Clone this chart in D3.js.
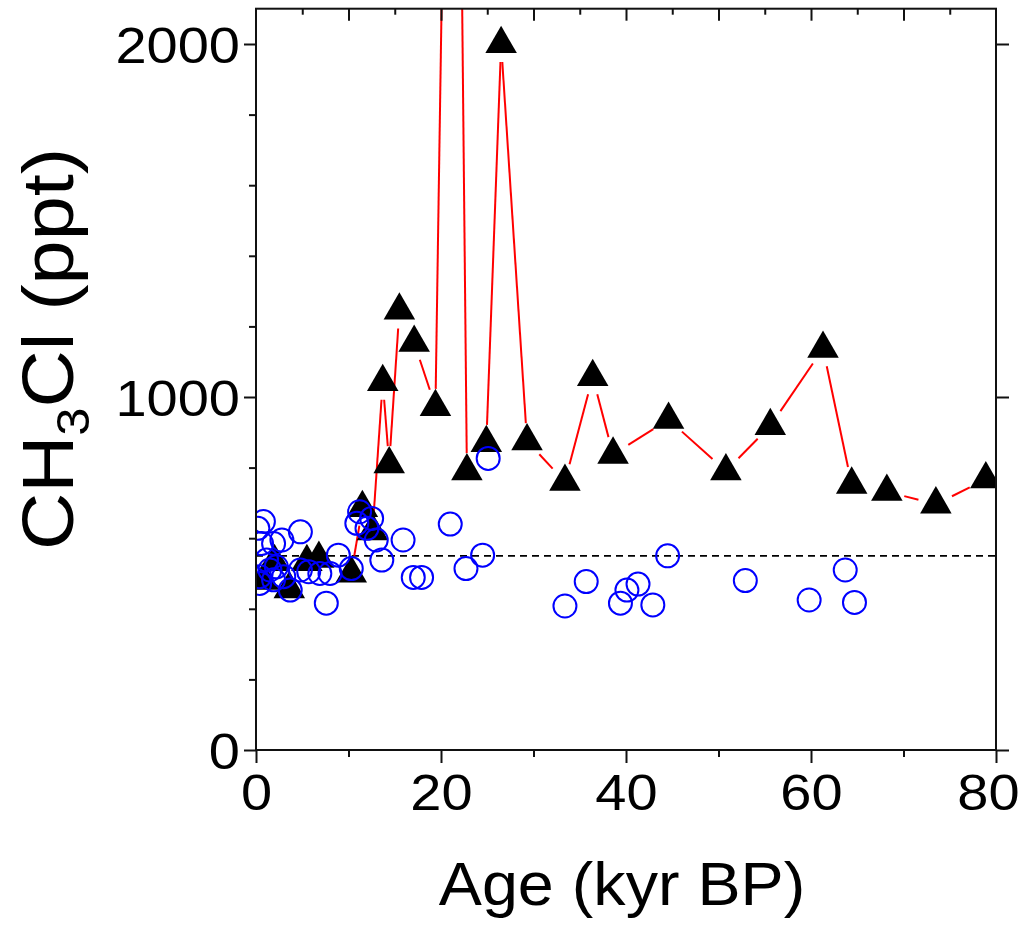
<!DOCTYPE html>
<html><head><meta charset="utf-8">
<script src="https://cdn.jsdelivr.net/npm/d3@7"></script>
<style>body{margin:0;background:#fff}svg{display:block}</style>
</head><body><svg id="c" width="1022" height="927"></svg>
<script>
// Triangles (connected by red line), age in kyr BP and CH3Cl in ppt
const triAge = [0.8, 2.0, 3.6, 5.5, 6.8, 10.3, 11.5, 12.6, 13.7, 14.4, 15.5, 17.1, 19.4, 21.4, 22.8, 24.9, 26.5, 29.3, 33.4, 36.4, 38.6, 44.6, 50.8, 55.6, 61.3, 64.4, 68.2, 73.5, 78.9];
const triVal = [480, 533, 456, 533, 542, 500, 686, 620, 1043, 810, 1245, 1154, 972, 4400, 790, 870, 2000, 875, 760, 1057, 837, 936, 790, 918, 1137, 752, 732, 696, 767];
// Open circles
const circAge = [0.2, 0.8, 0.6, 1.15, 0.4, 0.4, 1.5, 1.9, 1.9, 2.2, 2.8, 3.0, 3.7, 4.8, 4.8, 5.7, 6.9, 7.6, 8.0, 8.9, 10.3, 10.9, 11.2, 12.0, 12.5, 13.0, 13.6, 15.9, 17.0, 17.9, 21.0, 22.7, 24.5, 25.1, 33.4, 35.7, 39.4, 40.1, 41.3, 42.9, 44.5, 52.9, 59.8, 63.7, 64.7];
const circVal = [628, 647, 585, 538, 491, 472, 510, 585, 482, 519, 595, 491, 453, 618, 510, 505, 500, 416, 500, 552, 514, 642, 675, 628, 656, 595, 538, 595, 489, 489, 640, 514, 552, 826, 408, 477, 416, 453, 470, 411, 550, 480, 425, 510, 418];
const refLevel = 550;
const xMajor = [0, 20, 40, 60, 80];
const xMinor = [10, 30, 50, 70];
const xTop = d3.range(5, 80, 5);
const yMajor = [0, 1000, 2000];
const yMinor = [200, 400, 600, 800, 1200, 1400, 1600, 1800];

const L = 256, R = 996, B = 750, T = B - 2100 * 0.353;
const x = d3.scaleLinear().domain([0, 80]).range([L, R]);
const y = d3.scaleLinear().domain([0, 2100]).range([B, T]);
const FONT = "'Liberation Sans', Arial, Helvetica, sans-serif";
const SX = 1.12; // horizontal stretch of the labels seen in the reference

const svg = d3.select("#c");
svg.append("defs").append("clipPath").attr("id", "clip")
  .append("rect").attr("x", L).attr("y", T).attr("width", R - L).attr("height", B - T);

const plot = svg.append("g").attr("clip-path", "url(#clip)");

// dashed reference line
plot.append("line")
  .attr("x1", x(0)).attr("x2", x(80))
  .attr("y1", y(refLevel)).attr("y2", y(refLevel))
  .attr("stroke", "#000").attr("stroke-width", 1.8).attr("stroke-dasharray", "7,5");

// red connecting line with gaps at the symbols
const pts = triAge.map((a, i) => [x(a), y(triVal[i])]);
const gap = 18;
const segs = [];
for (let i = 0; i < pts.length - 1; i++) {
  const [x1, y1] = pts[i], [x2, y2] = pts[i + 1];
  const dx = x2 - x1, dy = y2 - y1, len = Math.hypot(dx, dy);
  if (len <= 2 * gap) continue;
  const ux = dx / len, uy = dy / len;
  segs.push([x1 + ux * gap, y1 + uy * gap, x2 - ux * gap, y2 - uy * gap]);
}
plot.selectAll("line.seg").data(segs).enter().append("line").attr("class", "seg")
  .attr("x1", d => d[0]).attr("y1", d => d[1]).attr("x2", d => d[2]).attr("y2", d => d[3])
  .attr("stroke", "#ff0000").attr("stroke-width", 2);

// triangles
const tri = d3.symbol().type(d3.symbolTriangle).size(430);
plot.selectAll("path.tri").data(triAge.map((a, i) => [a, triVal[i]])).enter()
  .append("path").attr("class", "tri")
  .attr("d", tri)
  .attr("transform", d => `translate(${x(d[0])},${y(d[1])})`)
  .attr("fill", "#000");

// circles
plot.selectAll("circle").data(circAge.map((a, i) => [a, circVal[i]])).enter()
  .append("circle")
  .attr("cx", d => x(d[0])).attr("cy", d => y(d[1])).attr("r", 11.5)
  .attr("fill", "none").attr("stroke", "#0000ff").attr("stroke-width", 2);

// axes
function style(g) {
  g.select(".domain").remove();
  g.selectAll("line").attr("stroke", "#111").attr("stroke-width", 2);
  g.selectAll("text").attr("font-family", FONT).attr("font-size", 50).attr("fill", "#000");
}
function stretch(sel, ax) {
  sel.attr("transform", function (d) {
    const a = typeof ax === "function" ? ax.call(this, d) : ax;
    return `translate(${a},0) scale(${SX},1) translate(${-a},0)`;
  });
}
const lastShift = d => (d === 80 ? -8 : 0);
svg.append("g").attr("transform", `translate(0,${B})`)
  .call(d3.axisBottom(x).tickValues(xMajor).tickSize(13).tickPadding(12).tickFormat(d3.format("d")))
  .call(style)
  .selectAll(".tick text").attr("x", lastShift).call(stretch, lastShift);
svg.append("g").attr("transform", `translate(0,${B})`)
  .call(d3.axisBottom(x).tickValues(xMinor).tickSize(7).tickFormat(""))
  .call(style);
svg.append("g").attr("transform", `translate(0,${T})`)
  .call(d3.axisBottom(x).tickValues(xTop).tickSize(6).tickFormat(""))
  .call(style)
  .selectAll(".tick line").attr("y2", d => d % 10 === 0 ? 12 : 6);
svg.append("g").attr("transform", `translate(${L},0)`)
  .call(d3.axisLeft(y).tickValues(yMajor).tickSize(12).tickPadding(4).tickFormat(d3.format("d")))
  .call(style)
  .selectAll("text").attr("dy", "0.36em").call(stretch, -16);
svg.append("g").attr("transform", `translate(${L},0)`)
  .call(d3.axisLeft(y).tickValues(yMinor).tickSize(7).tickFormat(""))
  .call(style);
svg.append("g").attr("transform", `translate(${R},0)`)
  .call(d3.axisLeft(y).tickValues(yMajor).tickSize(-13).tickFormat(""))
  .call(style);

// frame
svg.append("rect").attr("x", L).attr("y", T).attr("width", R - L).attr("height", B - T)
  .attr("fill", "none").attr("stroke", "#111").attr("stroke-width", 2);

// axis titles
svg.append("text").attr("transform", `translate(622,905) scale(1.06,1)`).attr("text-anchor", "middle")
  .attr("font-family", FONT).attr("font-size", 61).text("Age (kyr BP)");
const yt = svg.append("text").attr("transform", "translate(73,349) rotate(-90) scale(1.1,1)")
  .attr("text-anchor", "middle").attr("font-family", FONT).attr("font-size", 72);
yt.append("tspan").text("CH");
yt.append("tspan").attr("font-size", 46).attr("dy", 16).text("3");
yt.append("tspan").attr("dy", -16).text("Cl (ppt)");
</script></body></html>
